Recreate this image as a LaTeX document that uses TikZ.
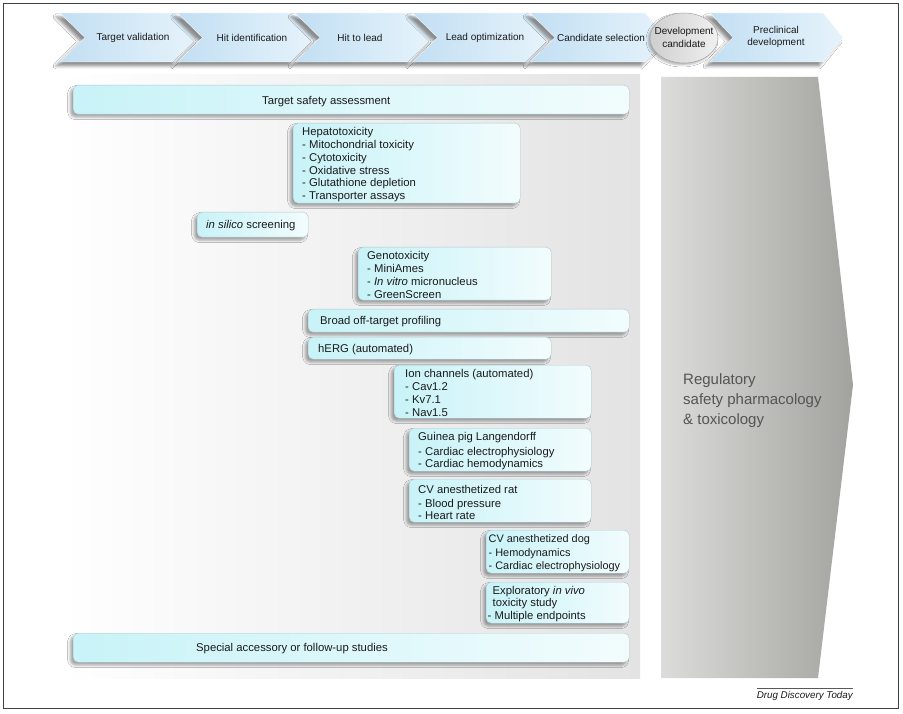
\documentclass[tikz,border=0pt]{standalone}
\usepackage{fontspec}
\setmainfont{Liberation Sans}
\usetikzlibrary{shapes.geometric,shadows.blur}
\definecolor{chevL}{HTML}{C2DFF3}
\definecolor{chevR}{HTML}{E6F3FB}
\definecolor{boxL}{HTML}{C8F3F8}
\definecolor{boxR}{HTML}{F2FCFD}
\definecolor{boxline}{HTML}{B0C8CC}
\definecolor{txt}{HTML}{1A1A1A}
\definecolor{arrL}{HTML}{DCDCDA}
\definecolor{arrR}{HTML}{A2A29E}
\definecolor{regtxt}{HTML}{555555}
\definecolor{panelR}{HTML}{E3E3E3}
\definecolor{ellL}{HTML}{CFCFCF}
\definecolor{ellR}{HTML}{F0F0F0}
\begin{document}
\begin{tikzpicture}[x=1pt,y=-1pt,
  chev/.style={left color=chevL, right color=chevR, draw=white, line width=0.3pt,
    blur shadow={shadow xshift=-4pt,shadow yshift=-4pt,shadow blur radius=3pt,shadow opacity=45}},
  chevlabel/.style={font=\fontsize{10}{12.5}\selectfont, text=txt, align=center, inner sep=0pt},
  box/.style={rounded corners=5pt, draw=boxline, line width=0.4pt, left color=boxL, right color=boxR,
    anchor=north west, inner sep=0pt,
    blur shadow={shadow xshift=-3pt,shadow yshift=-3pt,shadow blur radius=2.5pt,shadow opacity=35}},
  boxtext/.style={anchor=west, align=left, inner sep=0pt, text=txt, font=\fontsize{11.3}{12.7}\selectfont, yshift=-1.5pt},
]
\useasboundingbox (0,0) rectangle (903,714);
\fill[white] (0,0) rectangle (903,714);
\draw[line width=0.8pt, black!75] (3,3) rectangle (898,708);

% background panel
\shade[left color=white, right color=panelR] (60,75) rectangle (640,678);

% regulatory arrow
\shade[left color=arrL, right color=arrR] (661,77) -- (818,77) -- (853,385) -- (818,678) -- (661,678) -- cycle;
\node[anchor=west, align=left, inner sep=0pt, text=regtxt, font=\fontsize{15}{20}\selectfont] (reg) at (683,401)
  {Regulatory\\safety pharmacology\\\& toxicology};

% chevrons
\foreach \L in {60,177.5,295,412.5,530}{
  \path[chev] (\L,13) -- ++(115,0) -- ++(22,24.5) -- ++(-22,24.5) -- ++(-115,0) -- ++(25,-24.5) -- cycle;
}
\path[chev] (710,13) -- ++(113,0) -- ++(20,24.5) -- ++(-20,24.5) -- ++(-113,0) -- ++(23,-24.5) -- cycle;
\node[ellipse, minimum width=68pt, minimum height=50pt, draw=black!35, line width=0.5pt,
  left color=ellL, right color=ellR, inner sep=0pt,
  blur shadow={shadow xshift=-2pt,shadow yshift=-2pt,shadow blur radius=2pt,shadow opacity=30}] (dev) at (684,38) {};
\node[chevlabel] (devt) at (684,37.5) {Development\\candidate};
\node[chevlabel] (c1) at (133,38) {Target validation};
\node[chevlabel] (c2) at (252,38) {Hit identification};
\node[chevlabel] (c3) at (360,38) {Hit to lead};
\node[chevlabel] (c4) at (485,38) {Lead optimization};
\node[chevlabel] (c5) at (601,38) {Candidate selection};
\node[chevlabel] (c7) at (776,37) {Preclinical\\development};

% boxes
\node[box, minimum width=556pt, minimum height=29pt] (tsa) at (73,85) {};
\node[boxtext] (tsat) at (262,100) {Target safety assessment};

\node[box, minimum width=227pt, minimum height=80pt] (hep) at (293,123) {};
\node[boxtext] (hept) at (302,163) {Hepatotoxicity\\[0.8pt]- Mitochondrial toxicity\\- Cytotoxicity\\- Oxidative stress\\- Glutathione depletion\\- Transporter assays};

\node[box, minimum width=111pt, minimum height=25pt] (sil) at (197,212) {};
\node[boxtext] (silt) at (206,224.5) {\textit{in silico} screening};

\node[box, minimum width=193pt, minimum height=53pt] (gen) at (358,247) {};
\node[boxtext] (gent) at (367,273.5) {Genotoxicity\\- MiniAmes\\- \textit{In vitro} micronucleus\\- GreenScreen};

\node[box, minimum width=321pt, minimum height=23pt] (broad) at (308,309) {};
\node[boxtext] (broadt) at (320,320.5) {Broad off-target profiling};

\node[box, minimum width=243pt, minimum height=22pt] (herg) at (308,337) {};
\node[boxtext] (hergt) at (318,348) {hERG (automated)};

\node[box, minimum width=197pt, minimum height=53pt] (ion) at (394,365) {};
\node[boxtext] (iont) at (405,391.5) {Ion channels (automated)\\- Cav1.2\\- Kv7.1\\- Nav1.5};

\node[box, minimum width=182pt, minimum height=43pt] (gp) at (409,428) {};
\node[boxtext] (gpt) at (418,450) {Guinea pig Langendorff\\[1.5pt]- Cardiac electrophysiology\\- Cardiac hemodynamics};

\node[box, minimum width=182pt, minimum height=43pt] (rat) at (409,479) {};
\node[boxtext] (ratt) at (418,501) {CV anesthetized rat\\[1.5pt]- Blood pressure\\- Heart rate};

\node[box, minimum width=143pt, minimum height=43pt] (dog) at (486,530) {};
\node[boxtext, font=\fontsize{10.9}{12.7}\selectfont] (dogt) at (488.5,551.5) {CV anesthetized dog\\[1.5pt]- Hemodynamics\\- Cardiac electrophysiology};

\node[box, minimum width=143pt, minimum height=41pt] (expl) at (486,582) {};
\node[boxtext] (explt) at (487.5,602.5) {\hspace*{5pt}Exploratory \textit{in vivo}\\\hspace*{5pt}toxicity study\\- Multiple endpoints};

\node[box, minimum width=556pt, minimum height=29pt] (spec) at (73,633) {};
\node[boxtext] (spect) at (196,647.5) {Special accessory or follow-up studies};

% credit
\node[anchor=east, inner sep=0pt, text=txt, font=\fontsize{9.8}{11}\selectfont\itshape] (ddt) at (853,696) {Drug Discovery Today};
\draw[line width=0.6pt, black!65] ([yshift=3pt]ddt.north west) -- ([yshift=3pt]ddt.north east);
\end{tikzpicture}
\end{document}
